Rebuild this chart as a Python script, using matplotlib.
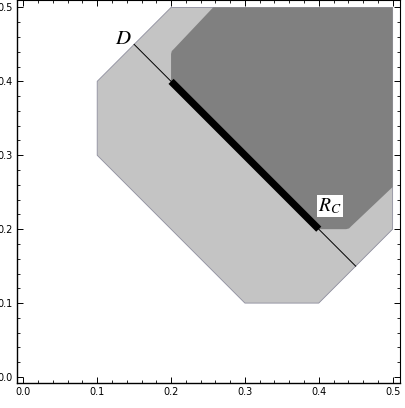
import matplotlib
matplotlib.use("Agg")
import matplotlib.pyplot as plt
from matplotlib.ticker import MultipleLocator

plt.rcParams['mathtext.fontset'] = 'stix'

# --- dados ---
# regiao clara (octogono)
light_x = [0.1, 0.1, 0.2, 0.5, 0.5, 0.4, 0.3]
light_y = [0.3, 0.4, 0.5, 0.5, 0.2, 0.1, 0.1]

# regiao escura (cantos levemente arredondados)
dark_x = [0.2, 0.2, 0.201, 0.204, 0.257, 0.5, 0.5, 0.444, 0.441, 0.437, 0.4]
dark_y = [0.4, 0.437, 0.441, 0.444, 0.5, 0.5, 0.257, 0.204, 0.201, 0.2, 0.4 - 0.2]

# reta D e segmento R_C
d_x = [0.15, 0.45]
d_y = [0.45, 0.15]
rc_x = [0.2, 0.4]
rc_y = [0.4, 0.2]

ticks = [0.0, 0.1, 0.2, 0.3, 0.4, 0.5]
tick_labels = ["0.0", "0.1", "0.2", "0.3", "0.4", "0.5"]

fig = plt.figure(figsize=(4.06, 4.08), dpi=100)
ax = fig.add_axes([16.7 / 406, (408 - 382.7) / 408, (400 - 16.7) / 406, 382.7 / 408 - 0.001])

ax.fill(light_x, light_y, facecolor="#c4c4c4", edgecolor="#8e8e9e", linewidth=0.6, zorder=1)
ax.fill(dark_x, dark_y, facecolor="#808080", edgecolor="none", zorder=2)
ax.plot(d_x, d_y, color="black", linewidth=0.7, zorder=3)
ax.plot(rc_x, rc_y, color="black", linewidth=5.2, solid_capstyle="butt", zorder=4)

ax.text(0.136, 0.459, r"$D$", fontsize=15, ha="center", va="center", zorder=5)
ax.text(0.415, 0.231, r"$R_C$", fontsize=14, ha="center", va="center", zorder=5,
        bbox=dict(facecolor="white", edgecolor="none", pad=1.0))

ax.set_xlim(-0.009, 0.51)
ax.set_ylim(-0.0077, 0.5095)

ax.set_xticks(ticks)
ax.set_xticklabels(tick_labels)
ax.set_yticks(ticks)
ax.set_yticklabels(tick_labels)
ax.xaxis.set_minor_locator(MultipleLocator(0.02))
ax.yaxis.set_minor_locator(MultipleLocator(0.02))
ax.tick_params(which="both", direction="in", top=True, right=True, labelsize=7, pad=3)
ax.tick_params(which="major", length=4, width=0.7)
ax.tick_params(which="minor", length=2.2, width=0.6)

for s in ["left", "bottom"]:
    ax.spines[s].set_linewidth(1.0)
for s in ["top", "right"]:
    ax.spines[s].set_linewidth(0.8)

fig.savefig("out.png", dpi=100)
